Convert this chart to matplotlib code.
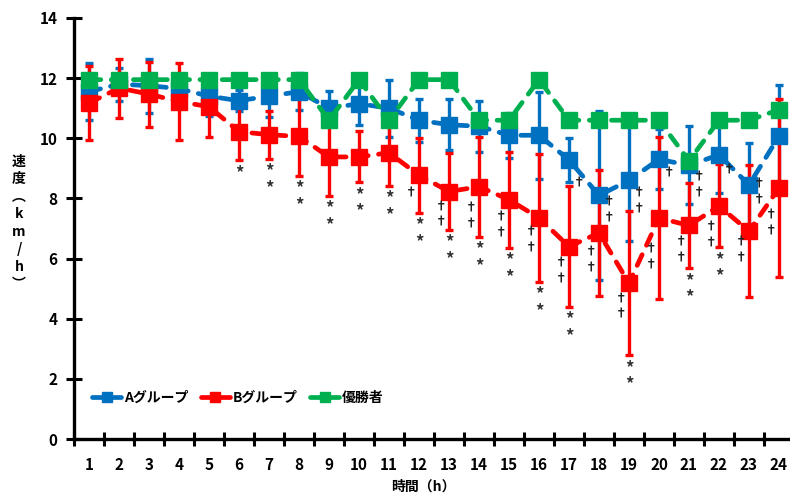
import matplotlib
matplotlib.use("Agg")
import matplotlib.pyplot as plt
from matplotlib.lines import Line2D
import numpy as np

plt.rcParams["font.family"] = ["Noto Sans CJK JP", "DejaVu Sans"]
plt.rcParams["font.weight"] = "bold"

# hours 1..24
hours = list(range(1, 25))

# A group: mean and SD (km/h)
a_mean = [11.55, 11.8, 11.75, 11.65, 11.4, 11.25, 11.4, 11.55, 11.0, 11.15, 11.0, 10.6,
          10.45, 10.4, 10.1, 10.1, 9.28, 8.1, 8.6, 9.3, 9.1, 9.45, 8.45, 10.07]
a_sd = [0.95, 0.55, 0.9, 0.5, 0.65, 0.35, 0.7, 0.62, 0.58, 0.72, 0.95, 0.72,
        0.85, 0.85, 0.75, 1.45, 0.72, 2.8, 2.0, 1.0, 1.3, 1.27, 1.4, 1.7]

# B group: mean and SD (km/h)
b_mean = [11.17, 11.67, 11.47, 11.22, 11.05, 10.22, 10.12, 10.06, 9.38, 9.38, 9.52, 8.77,
          8.23, 8.39, 7.96, 7.35, 6.4, 6.85, 5.18, 7.35, 7.1, 7.75, 6.91, 8.35]
b_sd = [1.22, 0.98, 1.08, 1.27, 1.0, 0.95, 0.8, 1.3, 1.3, 0.85, 1.1, 1.25,
        1.28, 1.66, 1.6, 2.13, 2.0, 2.1, 2.4, 2.7, 1.42, 1.38, 2.2, 2.95]

# winner
w_speed = [11.95, 11.95, 11.95, 11.95, 11.95, 11.95, 11.95, 11.95, 10.6, 11.95, 10.6, 11.95,
           11.95, 10.6, 10.6, 11.95, 10.6, 10.6, 10.6, 10.6, 9.25, 10.6, 10.6, 10.95]

# significance marks: (hour, count)
star_marks = [(6, 1), (7, 2), (8, 2), (9, 2), (10, 2), (11, 2), (12, 2), (13, 2), (14, 2),
              (15, 2), (16, 2), (17, 2), (19, 2), (21, 2), (22, 2)]
# daggers next to B group: (hour, first mark level, count)
b_daggers = [(12, 8.18, 1), (13, 7.72, 2), (14, 7.68, 2), (15, 7.38, 2), (16, 6.88, 2),
             (17, 5.85, 2), (18, 6.22, 2), (19, 4.66, 2), (20, 6.32, 2), (21, 6.55, 2),
             (22, 7.05, 2), (23, 6.55, 2), (24, 7.45, 2)]
# daggers next to A group
a_daggers = [(17, 8.51, 1), (18, 7.88, 2), (19, 8.18, 2), (20, 8.85, 1), (21, 8.71, 2),
             (22, 8.95, 1), (23, 8.48, 2)]

labels = ["Aグループ", "Bグループ", "優勝者"]
colors = ["#0070C0", "#FF0000", "#00B050"]

fig = plt.figure(figsize=(7.9, 4.95), dpi=100)
ax = fig.add_axes([74 / 790, 56 / 495, 720 / 790, 421 / 495])

x = np.array(hours)
dash = (0, (2.5, 2.2))

ax.errorbar(x, a_mean, yerr=a_sd, fmt="none", ecolor=colors[0], elinewidth=2.4,
            capsize=3, capthick=2.4, zorder=2)
ax.errorbar(x, b_mean, yerr=b_sd, fmt="none", ecolor=colors[1], elinewidth=2.4,
            capsize=3, capthick=2.4, zorder=2.5)

for i, ys in enumerate([a_mean, b_mean, w_speed]):
    ax.plot(x, ys, color=colors[i], lw=3.4, ls=dash, dash_capstyle="round",
            marker="s", ms=11, zorder=3 + i * 0.1)

# significance symbols
step = 0.52
for h, n in star_marks:
    low = b_mean[h - 1] - b_sd[h - 1]
    for k in range(n):
        ax.text(h, low - 0.42 - k * 0.55, "*", ha="center", va="center",
                fontsize=12, color="#333333", zorder=5)
for h, y0, n in b_daggers:
    for k in range(n):
        ax.text(h - 0.25, y0 - k * step, "†", ha="center", va="center",
                fontsize=9, color="#222222", zorder=5)
for h, y0, n in a_daggers:
    for k in range(n):
        ax.text(h + 0.35, y0 - k * step, "†", ha="center", va="center",
                fontsize=9, color="#222222", zorder=5)

ax.set_xlim(0.5, 24.5)
ax.set_ylim(0, 14)
ax.set_yticks(np.arange(0, 15, 2))
ax.set_xticks(x)
ax.set_xticklabels([str(h) for h in hours])
ax.set_xticks(np.arange(0.5, 25, 1), minor=True)
ax.tick_params(axis="x", which="major", length=0, pad=13, labelsize=11)
ax.tick_params(axis="x", which="minor", length=10, width=2.2, direction="inout")
ax.tick_params(axis="y", length=12, width=2.2, direction="inout", pad=6, labelsize=11)
for s in ["top", "right"]:
    ax.spines[s].set_visible(False)
for s in ["left", "bottom"]:
    ax.spines[s].set_linewidth(2.4)

handles = [Line2D([], [], color=c, lw=3.4, solid_capstyle="round", marker="s", ms=7)
           for c in colors]
ax.legend(handles, labels, loc="center left", bbox_to_anchor=(0.025, 0.097),
          ncol=3, frameon=False, fontsize=10, handlelength=2.1, handletextpad=0.2,
          columnspacing=0.9, borderpad=0, borderaxespad=0)

fig.text(19 / 790, 1 - 223 / 495, "速\n度\n︵\nk\nm\n/\nh\n︶", ha="center", va="center",
         ma="center", linespacing=1.32, fontsize=10)
fig.text(423 / 790, 1 - 487 / 495, "時間（h）", ha="center", va="center", fontsize=10)

fig.savefig("out.png", dpi=100)
